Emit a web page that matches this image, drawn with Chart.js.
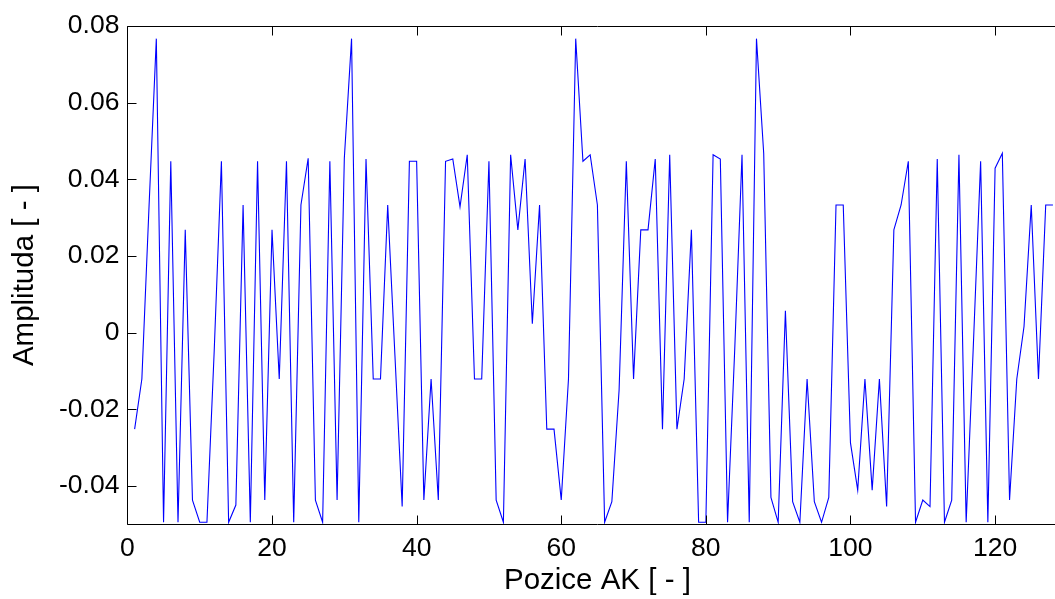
<!DOCTYPE html>
<html><head><meta charset="utf-8">
<script src="https://cdn.jsdelivr.net/npm/chart.js@4"></script>
<style>html,body{margin:0;padding:0;background:#fff;overflow:hidden;width:1055px;height:599px}canvas{display:block}</style>
</head><body><canvas id="c" width="1080" height="599"></canvas>
<script>
const positions = Array.from({length:128}, (_, k) => k + 1);
const amplitudes = [
 -0.0252,-0.0121, 0.0333, 0.0767,-0.0495, 0.0447,-0.0495, 0.0268,-0.0437,-0.0495,
 -0.0495,-0.0050, 0.0447,-0.0495,-0.0450, 0.0333,-0.0495, 0.0447,-0.0437, 0.0268,
 -0.0121, 0.0447,-0.0495, 0.0333, 0.0455,-0.0437,-0.0495, 0.0447,-0.0437, 0.0455,
  0.0767,-0.0495, 0.0453,-0.0121,-0.0121, 0.0333,-0.0060,-0.0454, 0.0447, 0.0447,
 -0.0437,-0.0121,-0.0437, 0.0447, 0.0453, 0.0328, 0.0464,-0.0121,-0.0121, 0.0447,
 -0.0437,-0.0495, 0.0464, 0.0268, 0.0453, 0.0023, 0.0333,-0.0252,-0.0252,-0.0437,
 -0.0121, 0.0767, 0.0447, 0.0464, 0.0333,-0.0495,-0.0441,-0.0150, 0.0447,-0.0121,
  0.0268, 0.0268, 0.0453,-0.0252, 0.0464,-0.0252,-0.0121, 0.0268,-0.0495,-0.0495,
  0.0464, 0.0453,-0.0495,-0.0040, 0.0464,-0.0495, 0.0767, 0.0468,-0.0430,-0.0495,
  0.0057,-0.0441,-0.0495,-0.0121,-0.0441,-0.0495,-0.0430, 0.0333, 0.0333,-0.0288,
 -0.0411,-0.0121,-0.0411,-0.0121,-0.0454, 0.0268, 0.0333, 0.0447,-0.0495,-0.0437,
 -0.0454, 0.0453,-0.0495,-0.0437, 0.0464,-0.0495,-0.0030, 0.0447,-0.0495, 0.0429,
  0.0468,-0.0437,-0.0121, 0.0016, 0.0333,-0.0121, 0.0333, 0.0333
];
const xTickValues = [0, 20, 40, 60, 80, 100, 120];
const yTickValues = [-0.04, -0.02, 0, 0.02, 0.04, 0.06, 0.08];
const xTitle = 'Pozice AK [ - ]';
const yTitle = 'Amplituda [ - ]';

const FONT = "'Liberation Sans', Arial, Helvetica, sans-serif";
const TICK_SIZE = 26.5;
const TITLE_SIZE = 29.5;

const framePlugin = {
  id: 'frame',
  afterDraw(chart) {
    const {ctx, chartArea: {left, right, top, bottom}, scales: {x, y}} = chart;
    ctx.save();
    ctx.strokeStyle = '#000';
    ctx.lineWidth = 1;
    const L = Math.round(left) + 0.5, T = Math.round(top) + 0.5,
          B = Math.round(bottom) + 0.5, R = Math.round(right) + 0.5;
    ctx.beginPath();
    ctx.moveTo(R, T); ctx.lineTo(L, T); ctx.lineTo(L, B); ctx.lineTo(R, B); ctx.lineTo(R, T);
    x.ticks.forEach(t => {
      const px = Math.round(x.getPixelForValue(t.value)) + 0.5;
      ctx.moveTo(px, B); ctx.lineTo(px, B - 9);
      ctx.moveTo(px, T); ctx.lineTo(px, T + 9);
    });
    y.ticks.forEach(t => {
      const py = Math.round(y.getPixelForValue(t.value)) + 0.5;
      ctx.moveTo(L, py); ctx.lineTo(L + 9, py);
      ctx.moveTo(R, py); ctx.lineTo(R - 9, py);
    });
    ctx.stroke();
    ctx.restore();
  }
};

new Chart(document.getElementById('c'), {
  type: 'line',
  data: {
    datasets: [{
      data: positions.map((p, k) => ({x: p, y: amplitudes[k]})),
      borderColor: '#0000ff',
      borderWidth: 1.1,
      pointRadius: 0,
      tension: 0,
      fill: false
    }]
  },
  options: {
    responsive: false,
    animation: false,
    layout: {padding: {left: 0, top: 26, right: 12.6, bottom: 0}},
    plugins: {legend: {display: false}, tooltip: {enabled: false}},
    scales: {
      x: {
        type: 'linear',
        min: 0, max: 130,
        afterBuildTicks: s => { s.ticks = xTickValues.map(v => ({value: v})); },
        afterFit: s => { s.height = 74.8; },
        grid: {display: false, drawTicks: false},
        border: {display: false},
        ticks: {color: '#000', font: {family: FONT, size: TICK_SIZE}, padding: 8.5, maxRotation: 0,
                callback: v => String(v)},
        title: {display: true, text: xTitle, color: '#000', font: {family: FONT, size: TITLE_SIZE},
                padding: {top: 0, bottom: 0}}
      },
      y: {
        type: 'linear',
        min: -0.05, max: 0.08,
        afterBuildTicks: s => { s.ticks = yTickValues.map(v => ({value: v})); },
        afterFit: s => { s.width = 127.4; },
        grid: {display: false, drawTicks: false},
        border: {display: false},
        ticks: {color: '#000', font: {family: FONT, size: TICK_SIZE}, padding: 8,
                callback: v => Math.abs(v) < 1e-9 ? '0' : v.toFixed(2)},
        title: {display: true, text: yTitle, color: '#000', font: {family: FONT, size: TITLE_SIZE},
                padding: {top: 7, bottom: 0}}
      }
    }
  },
  plugins: [framePlugin]
});
</script></body></html>
